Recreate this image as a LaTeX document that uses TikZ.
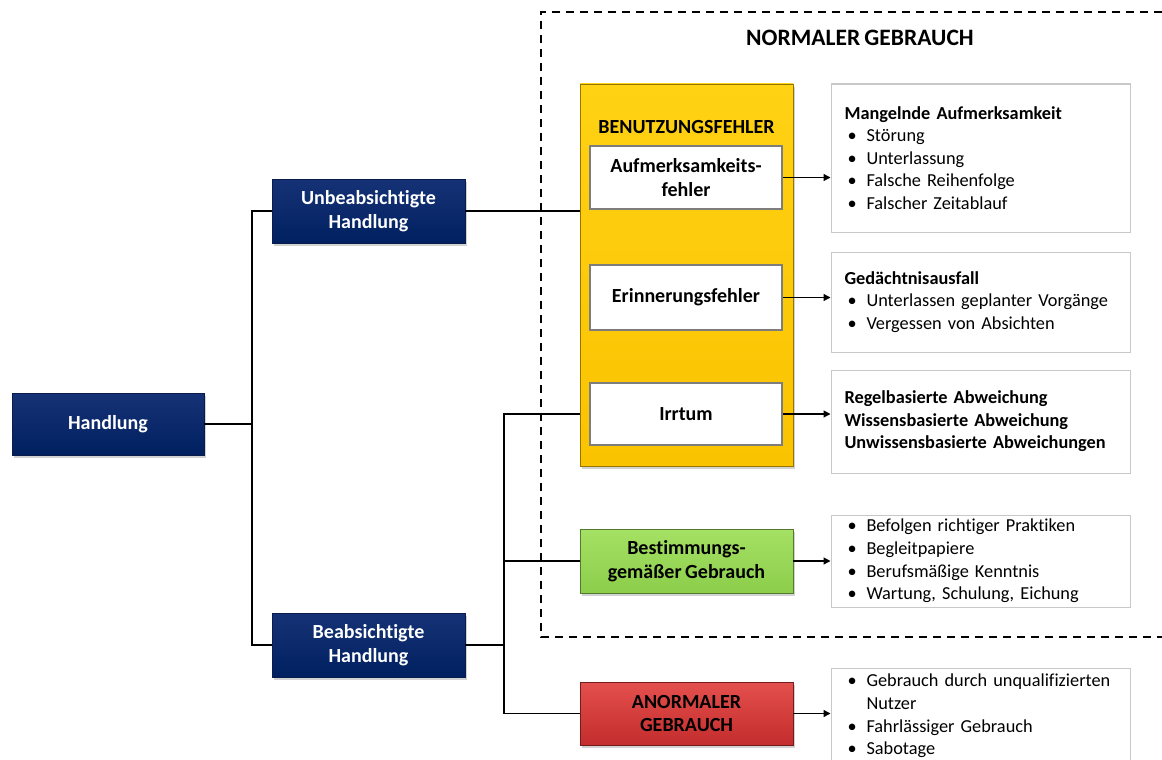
\documentclass[tikz,border=0pt]{standalone}
\usepackage{fontspec}
\setmainfont{Carlito}[RawFeature={-liga}, WordSpace=0.8]
\usetikzlibrary{arrows.meta,shadows,calc}

\definecolor{navyA}{RGB}{22,50,118}
\definecolor{navyB}{RGB}{0,32,96}
\definecolor{navyL}{RGB}{10,28,75}
\definecolor{goldA}{RGB}{255,210,20}
\definecolor{goldB}{RGB}{250,195,0}
\definecolor{greenA}{RGB}{165,225,100}
\definecolor{greenB}{RGB}{140,205,75}
\definecolor{redA}{RGB}{228,80,78}
\definecolor{redB}{RGB}{195,45,45}
\definecolor{frameG}{RGB}{125,125,125}
\definecolor{listG}{RGB}{200,200,200}

\newcommand\bul[1]{\makebox[3pt][l]{}\makebox[19pt][l]{•}#1}

\tikzset{
  labelfont/.style={font=\bfseries\fontsize{20}{23.5}\selectfont},
  navybox/.style={draw=navyL, line width=0.6pt, top color=navyA, bottom color=navyB,
    text=white, labelfont, align=center, inner sep=0pt,
    drop shadow={shadow xshift=1.5pt, shadow yshift=-2.5pt, opacity=0.35}},
  colourbox/.style={draw=#1B!60!black, line width=0.8pt, top color=#1A, bottom color=#1B,
    text=black, labelfont, align=center, inner sep=0pt,
    drop shadow={shadow xshift=1.5pt, shadow yshift=-2.5pt, opacity=0.35}},
  whitebox/.style={draw=frameG, line width=2.5pt, fill=white, text=black, labelfont,
    align=center, inner sep=0pt, minimum width=192pt},
  listbox/.style={draw=listG, line width=1pt, fill=white, text=black,
    font=\fontsize{18.3}{22.6}\selectfont, align=left, text width=272pt,
    minimum width=299pt, inner sep=0pt},
  link/.style={line width=1.3pt, draw=black},
  arrowlink/.style={link, -{Triangle[length=7pt,width=7pt]}},
  frame/.style={line width=1.8pt, dash pattern=on 8pt off 6pt},
}

\begin{document}
\begin{tikzpicture}[x=1pt,y=-1pt]
\useasboundingbox (0,0) rectangle (1162,760);
\fill[white] (0,0) rectangle (1162,760);

% frame around normal use (open to the right)
\draw[frame] (1162,12) -- (541,12) -- (541,637) -- (1162,637);
\node[font=\bfseries\fontsize{23.5}{27}\selectfont] (title) at (860,38) {NORMALER GEBRAUCH};

% action nodes
\node[navybox, minimum width=192pt, minimum height=62pt] (H) at (108,424) {Handlung};
\node[navybox, minimum width=193pt, minimum height=64pt] (U) at (368.5,211) {Unbeabsichtigte\\Handlung};
\node[navybox, minimum width=193pt, minimum height=64pt] (B) at (368.5,645) {Beabsichtigte\\Handlung};

% use errors
\node[colourbox=gold, minimum width=213pt, minimum height=382pt] (Y) at (686.5,275) {};
\node[labelfont] (Yt) at (686.5,127) {BENUTZUNGSFEHLER};
\node[whitebox, minimum height=63pt] (A) at (686,177.5) {Aufmerksamkeits-\\fehler};
\node[whitebox, minimum height=65pt] (E) at (686,297.5) {Erinnerungsfehler};
\node[whitebox, minimum height=62pt] (I) at (686,414) {Irrtum};

\node[colourbox=green, minimum width=213pt, minimum height=64pt] (G) at (686.5,561) {Bestimmungs-\\gemäßer Gebrauch};
\node[colourbox=red, minimum width=213pt, minimum height=63pt] (R) at (686.5,713.5) {ANORMALER\\GEBRAUCH};

% descriptions
\node[listbox, minimum height=148pt] (L1) at (980.5,158) {%
  \textbf{Mangelnde Aufmerksamkeit}\\
  \bul{Störung}\\
  \bul{Unterlassung}\\
  \bul{Falsche Reihenfolge}\\
  \bul{Falscher Zeitablauf}};
\node[listbox, minimum height=100pt] (L2) at (980.5,302) {%
  \textbf{Gedächtnisausfall}\\
  \bul{Unterlassen geplanter Vorgänge}\\
  \bul{Vergessen von Absichten}};
\node[listbox, minimum height=103pt] (L3) at (980.5,421.5) {%
  \textbf{Regelbasierte Abweichung}\\
  \textbf{Wissensbasierte Abweichung}\\
  \textbf{Unwissensbasierte Abweichungen}};
\node[listbox, minimum height=92pt] (L4) at (980.5,561) {%
  \bul{Befolgen richtiger Praktiken}\\
  \bul{Begleitpapiere}\\
  \bul{Berufsmäßige Kenntnis}\\
  \bul{Wartung, Schulung, Eichung}};
\node[listbox, minimum height=96pt] (L5) at (980.5,716) {%
  \bul{Gebrauch durch unqualifizierten}\\
  \hspace*{22pt}Nutzer\\
  \bul{Fahrlässiger Gebrauch}\\
  \bul{Sabotage}};

% tree connectors
\coordinate (j1) at (252,424);
\coordinate (j2) at (504,645);
\draw[link] (H.east) -- (j1) |- (U.west);
\draw[link] (j1) |- (B.west);
\draw[link] (U.east) -- (U.east -| Y.west);
\draw[link] (B.east) -- (j2);
\draw[link] (Y.west |- I.west) -- (I.west -| j2) -- (j2 |- R.west) -- (R.west);
\draw[link] (j2 |- G.west) -- (G.west);

% arrows to descriptions
\draw[arrowlink] (A.east) -- (A.east -| L1.west);
\draw[arrowlink] (E.east) -- (E.east -| L2.west);
\draw[arrowlink] (I.east) -- (I.east -| L3.west);
\draw[arrowlink] (G.east) -- (G.east -| L4.west);
\draw[arrowlink] (R.east) -- (R.east -| L5.west);
\end{tikzpicture}
\end{document}
